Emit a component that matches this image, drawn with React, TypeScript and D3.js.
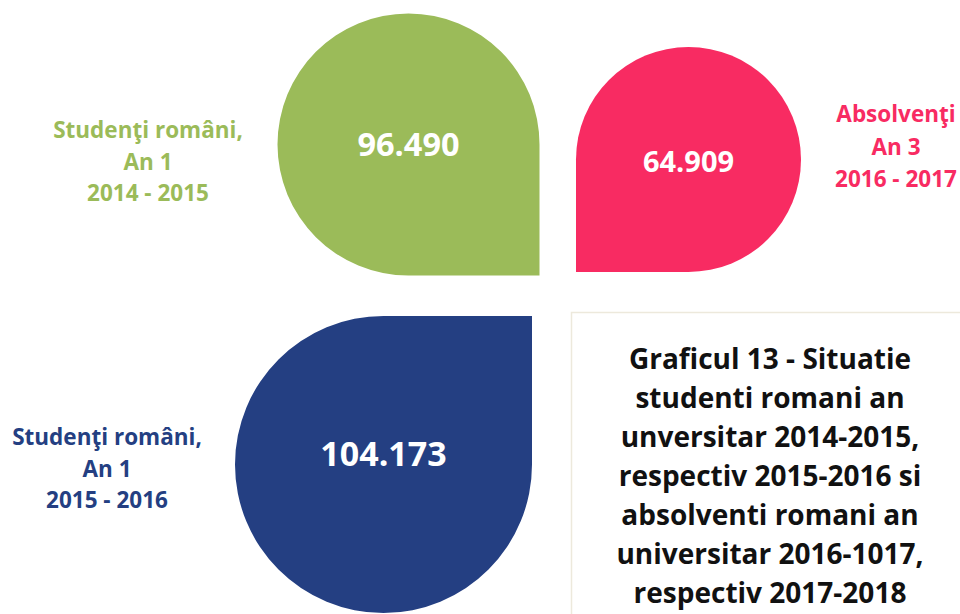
import React, { useEffect } from "react";
import * as d3 from "d3";

// ---- data ----
const categories = ["Studenţi români, An 1", "Absolvenţi An 3", "Studenţi români, An 1"];
const labelLines = [
  ["Studenţi români,", "An 1", "2014 - 2015"],
  ["Absolvenţi", "An 3", "2016 - 2017"],
  ["Studenţi români,", "An 1", "2015 - 2016"],
];
const values = [96490, 64909, 104173];
const colors = ["#9bbb59", "#f82b62", "#243f82"];
const titleLines = [
  "Graficul 13 - Situatie",
  "studenti romani an",
  "unversitar 2014-2015,",
  "respectiv 2015-2016 si",
  "absolventi romani an",
  "universitar 2016-1017,",
  "respectiv 2017-2018",
];

// ---- layout (positions/sizes kept separate from data) ----
const W = 960;
const H = 614;
const shapes = [
  { cx: 408.5, cy: 144.5, r: 131, corner: 0, numSize: 32.5, numY: 144, labelX: 148, labelY: 130, labelStep: 31.5 },
  { cx: 688.5, cy: 159.5, r: 112.5, corner: Math.PI / 2, numSize: 29, numY: 162, labelX: 896, labelY: 114, labelStep: 32.5 },
  { cx: 383.5, cy: 464.5, r: 148.5, corner: -Math.PI / 2, numSize: 34, numY: 454, labelX: 107, labelY: 437, labelStep: 31.5 },
];

const locale = d3.formatLocale({ decimal: ",", thousands: ".", grouping: [3], currency: ["", ""] });
const fmt = locale.format(",d");

function dropPath(cx: number, cy: number, r: number, a0: number) {
  const a1 = a0 + Math.PI / 2;
  const p = d3.path();
  p.moveTo(cx + r * Math.cos(a0), cy + r * Math.sin(a0));
  p.lineTo(cx + r * (Math.cos(a0) + Math.cos(a1)), cy + r * (Math.sin(a0) + Math.sin(a1)));
  p.lineTo(cx + r * Math.cos(a1), cy + r * Math.sin(a1));
  p.arc(cx, cy, r, a1, a0 + 2 * Math.PI);
  p.closePath();
  return p.toString();
}

export default function App() {
  useEffect(() => {
    document.body.style.margin = "0";
    document.body.style.overflow = "hidden";
  }, []);
  const font = "'Open Sans', 'Noto Sans', sans-serif";
  return (
    <svg width={W} height={H} style={{ position: "absolute", left: 0, top: 0, background: "#fff" }} fontFamily={font}>
      {values.map((v, i) => {
        const s = shapes[i];
        return (
          <g key={i}>
            <path d={dropPath(s.cx, s.cy, s.r, s.corner)} fill={colors[i]} aria-label={categories[i]} />
            <text x={s.cx} y={s.numY} dy="0.36em" textAnchor="middle" fill="#fff" fontWeight={700} fontSize={s.numSize}>
              {fmt(v)}
            </text>
            {labelLines[i].map((ln, j) => (
              <text key={j} x={s.labelX} y={s.labelY + j * s.labelStep} dy="0.36em" textAnchor="middle" fill={colors[i]} fontWeight={700} fontSize={22.5}>
                {ln}
              </text>
            ))}
          </g>
        );
      })}
      <rect x={571.5} y={312.5} width={420} height={340} fill="#fff" stroke="#ede9dc" strokeWidth={1.5} />
      {titleLines.map((ln, j) => (
        <text key={j} x={770} y={359 + j * 39} dy="0.36em" textAnchor="middle" fill="#111" fontWeight={700} fontSize={28}>
          {ln}
        </text>
      ))}
    </svg>
  );
}
